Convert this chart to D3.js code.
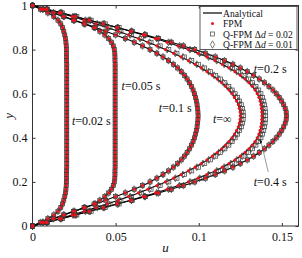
<!DOCTYPE html>
<html>
<head>
<meta charset="utf-8">
<script src="https://d3js.org/d3.v7.min.js"></script>
<style>
  body { margin: 0; background: #fff; }
  text { font-family: "Liberation Serif", "DejaVu Serif", serif; fill: #111; }
</style>
</head>
<body>
<script>
// y positions of the particles across the channel
const yNodes = [0, .0167, .0333, .05, .0667, .0833, .1, .1167, .1333, .15, .1667, .1833, .2, .2167, .2333, .25,
  .2667, .2833, .3, .3167, .3333, .35, .3667, .3833, .4, .4167, .4333, .45, .4667, .4833, .5,
  .5167, .5333, .55, .5667, .5833, .6, .6167, .6333, .65, .6667, .6833, .7, .7167, .7333, .75,
  .7667, .7833, .8, .8167, .8333, .85, .8667, .8833, .9, .9167, .9333, .95, .9667, .9833, 1];

// velocity profiles, wall (y=0) to centre (y=0.5); the channel is symmetric
const u002 = [0, .0048, .0092, .0128, .0153, .0170, .0181, .0188, .0194, .0198, .0201, .0203, .0204, .0205, .0205, .0205,
  .0206, .0206, .0206, .0206, .0206, .0206, .0206, .0206, .0206, .0206, .0206, .0206, .0206, .0206, .0206];
const u005 = [0, .0062, .0124, .0186, .0246, .0310, .0370, .0405, .0435, .0458, .0475, .0486, .0492, .0495, .0496, .0496,
  .0497, .0497, .0497, .0497, .0497, .0497, .0497, .0497, .0497, .0497, .0497, .0497, .0497, .0497, .0497];
const u01 = [0, .0063, .0127, .0190, .0253, .0316, .0378, .0440, .0500, .0558, .0612, .0662, .0707, .0748, .0785, .0818,
  .0847, .0873, .0895, .0914, .0930, .0944, .0956, .0966, .0974, .0981, .0986, .0990, .0993, .0995, .0996];
const u02 = [0, .0085, .0170, .0255, .0340, .0425, .0510, .0595, .0678, .0758, .0835, .0908, .0976, .1040, .1100, .1155,
  .1205, .1250, .1292, .1330, .1364, .1395, .1422, .1446, .1466, .1484, .1499, .1511, .1520, .1526, .1528];
const u04 = [0, .0086, .0172, .0258, .0343, .0427, .0509, .0589, .0666, .0740, .0810, .0876, .0938, .0996, .1049, .1098,
  .1142, .1182, .1218, .1250, .1278, .1302, .1322, .1339, .1352, .1362, .1369, .1374, .1377, .1379, .1380];
const uInf = [0, .0082, .0161, .0238, .0311, .0382, .0450, .0515, .0578, .0638, .0694, .0749, .0800, .0849, .0894, .0938,
  .0978, .1015, .1050, .1082, .1111, .1138, .1161, .1182, .1200, .1215, .1228, .1238, .1244, .1249, .1250];
// Q-FPM results that sit a little off the analytical line
const q02u04 = [0, .0091, .0180, .0267, .0353, .0438, .0521, .0602, .0680, .0755, .0826, .0893, .0956, .1015, .1069, .1119,
  .1164, .1204, .1240, .1272, .1300, .1324, .1344, .1361, .1374, .1384, .1391, .1396, .1399, .1401, .1402];
const q02uInf = [0, .0088, .0170, .0250, .0324, .0396, .0466, .0532, .0596, .0656, .0713, .0768, .0820, .0869, .0915, .0958,
  .0998, .1036, .1070, .1102, .1131, .1157, .1181, .1201, .1219, .1234, .1246, .1256, .1263, .1267, .1268];
const q01u04 = [0, .0088, .0176, .0263, .0348, .0433, .0515, .0596, .0673, .0747, .0818, .0884, .0947, .1005, .1059, .1108,
  .1153, .1193, .1229, .1261, .1289, .1313, .1333, .1350, .1363, .1373, .1380, .1385, .1388, .1390, .1391];
const q01uInf = [0, .0085, .0166, .0244, .0318, .0389, .0458, .0524, .0587, .0647, .0704, .0758, .0810, .0859, .0905, .0948,
  .0988, .1025, .1060, .1092, .1121, .1148, .1171, .1192, .1210, .1225, .1237, .1247, .1254, .1258, .1259];

const analytic = [u002, u005, u01, u02, u04, uInf];
const fpm = [u002, u005, u01, u02, u04, uInf];
const qfpm02 = [u002, u005, u01, u02, q02u04, q02uInf];
const qfpm01 = [u002, u005, u01, u02, q01u04, q01uInf];

const xTicks = [0, 0.05, 0.1, 0.15];
const yTicks = [0, 0.2, 0.4, 0.6, 0.8, 1];
const legendLabels = ["Analytical", "FPM", "Q-FPM", "Q-FPM"];
const legendDd = [null, null, "0.02", "0.01"];

// mirror a half profile onto the whole channel
function full(half) {
  return half.concat(half.slice(0, -1).reverse());
}

const W = 302, H = 258;
const pL = 32.5, pR = 298.5, pT = 5.5, pB = 226;

const svg = d3.select("body").append("svg")
  .attr("width", W).attr("height", H);

const x = d3.scaleLinear().domain([0, 0.16]).range([pL, pR]);
const y = d3.scaleLinear().domain([0, 1]).range([pB, pT]);

// frame
svg.append("rect")
  .attr("x", pL).attr("y", pT)
  .attr("width", pR - pL).attr("height", pB - pT)
  .attr("fill", "none").attr("stroke", "#333").attr("stroke-width", 1);

const fmt = d => d === 0 ? "0" : (d === 1 ? "1" : String(d));

const gx = svg.append("g").attr("transform", "translate(0," + pB + ")")
  .call(d3.axisBottom(x).tickValues(xTicks).tickFormat(fmt).tickSizeInner(-3).tickSizeOuter(0).tickPadding(6));
const gxt = svg.append("g").attr("transform", "translate(0," + pT + ")")
  .call(d3.axisTop(x).tickValues(xTicks).tickFormat("").tickSizeInner(-3).tickSizeOuter(0));
const gy = svg.append("g").attr("transform", "translate(" + pL + ",0)")
  .call(d3.axisLeft(y).tickValues(yTicks).tickFormat(fmt).tickSizeInner(-3).tickSizeOuter(0).tickPadding(5));
const gyr = svg.append("g").attr("transform", "translate(" + pR + ",0)")
  .call(d3.axisRight(y).tickValues(yTicks).tickFormat("").tickSizeInner(-3).tickSizeOuter(0));
[gx, gxt, gy, gyr].forEach(g => {
  g.select(".domain").remove();
  g.selectAll("line").attr("stroke", "#333");
  g.selectAll("text").attr("font-size", 12).attr("font-family", "Liberation Serif").attr("fill", "#111");
});

// axis titles
svg.append("text").text("u")
  .attr("x", (pL + pR) / 2).attr("y", 252)
  .attr("text-anchor", "middle").attr("font-size", 13).attr("font-style", "italic");
svg.append("text").text("y")
  .attr("transform", "translate(13," + ((pT + pB) / 2) + ") rotate(-90)")
  .attr("text-anchor", "middle").attr("font-size", 13).attr("font-style", "italic");

const plot = svg.append("g");
const line = d3.line()
  .x(d => x(d[0])).y(d => y(d[1]))
  .curve(d3.curveCatmullRom);

const pts = arr => full(arr).map((u, i) => [u, yNodes[i]]);

analytic.forEach(a => {
  plot.append("path").datum(pts(a))
    .attr("fill", "none").attr("stroke", "#000").attr("stroke-width", 1.1)
    .attr("d", line);
});

qfpm02.forEach(q => {
  plot.append("g").selectAll("rect").data(pts(q)).join("rect")
    .attr("x", d => x(d[0]) - 2).attr("y", d => y(d[1]) - 2)
    .attr("width", 4).attr("height", 4)
    .attr("fill", "none").attr("stroke", "#3a3a3a").attr("stroke-width", 0.7);
});
qfpm01.forEach(q => {
  plot.append("g").selectAll("path").data(pts(q)).join("path")
    .attr("d", d3.symbol(d3.symbolDiamond, 14))
    .attr("transform", d => "translate(" + x(d[0]) + "," + y(d[1]) + ")")
    .attr("fill", "none").attr("stroke", "#3a3a3a").attr("stroke-width", 0.7);
});
fpm.forEach(f => {
  plot.append("g").selectAll("circle").data(pts(f)).join("circle")
    .attr("cx", d => x(d[0])).attr("cy", d => y(d[1]))
    .attr("r", 1.6).attr("fill", "#e8141c");
});

// curve labels
function tLabel(txt, u, v) {
  const t = svg.append("text").attr("x", x(u)).attr("y", y(v)).attr("font-size", 12);
  t.append("tspan").attr("font-style", "italic").text("t");
  t.append("tspan").text(txt);
}
tLabel("=0.02 s", 0.0237, 0.458);
tLabel("=0.05 s", 0.0536, 0.617);
tLabel("=0.1 s", 0.0760, 0.515);
tLabel("=\u221e", 0.1085, 0.467);
tLabel("=0.2 s", 0.1331, 0.694);
tLabel("=0.4 s", 0.1331, 0.181);

// arrow for t=0.4 s
svg.append("defs").append("marker")
  .attr("id", "ah").attr("viewBox", "0 0 10 10").attr("refX", 9).attr("refY", 5)
  .attr("markerWidth", 5).attr("markerHeight", 5).attr("orient", "auto")
  .append("path").attr("d", "M0,0L10,5L0,10z").attr("fill", "#000");
svg.append("line")
  .attr("x1", x(0.1418)).attr("y1", y(0.245))
  .attr("x2", x(0.1372)).attr("y2", y(0.39))
  .attr("stroke", "#555").attr("stroke-width", 0.6)
  .attr("marker-end", "url(#ah)");

// legend
const lg = svg.append("g");
const lx = 200, ly = 6.5, lw = 97, lh = 43;
lg.append("rect").attr("x", lx).attr("y", ly).attr("width", lw).attr("height", lh)
  .attr("fill", "#fff").attr("stroke", "#333").attr("stroke-width", 0.8);
const rowY = [13, 23.5, 34, 44.5];
lg.append("line").attr("x1", lx + 3).attr("x2", lx + 22).attr("y1", rowY[0]).attr("y2", rowY[0])
  .attr("stroke", "#000").attr("stroke-width", 1.2);
lg.append("circle").attr("cx", lx + 12.5).attr("cy", rowY[1]).attr("r", 1.5).attr("fill", "#e8141c");
lg.append("rect").attr("x", lx + 10.5).attr("y", rowY[2] - 2).attr("width", 4).attr("height", 4)
  .attr("fill", "none").attr("stroke", "#444").attr("stroke-width", 0.7);
lg.append("path").attr("d", d3.symbol(d3.symbolDiamond, 16))
  .attr("transform", "translate(" + (lx + 12.5) + "," + rowY[3] + ")")
  .attr("fill", "none").attr("stroke", "#444").attr("stroke-width", 0.7);
legendLabels.forEach((s, i) => {
  const t = lg.append("text").attr("x", lx + 23).attr("y", rowY[i] + 3.5).attr("font-size", 9.6);
  t.append("tspan").text(s);
  if (legendDd[i]) {
    t.append("tspan").text(" \u0394");
    t.append("tspan").attr("font-style", "italic").text("d");
    t.append("tspan").text(" = " + legendDd[i]);
  }
});
</script>
</body>
</html>
